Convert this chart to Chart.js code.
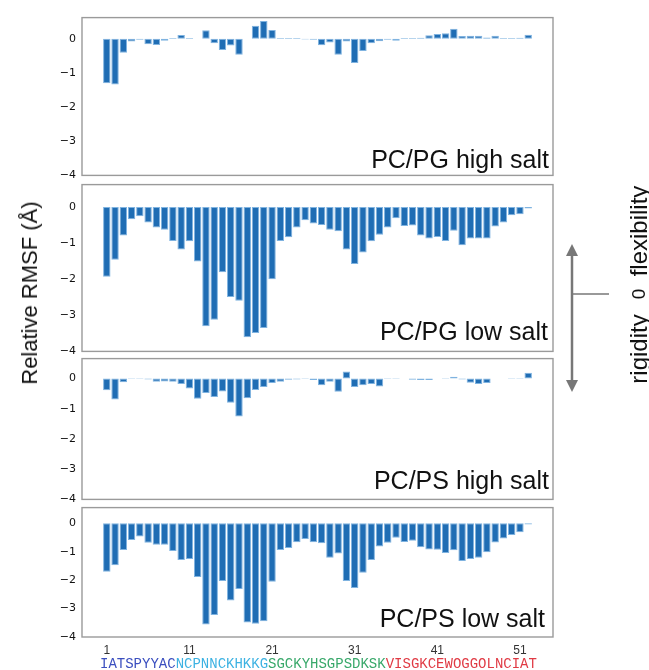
<!DOCTYPE html>
<html><head><meta charset="utf-8">
<script src="https://cdn.jsdelivr.net/npm/chart.js@4.4.0/dist/chart.umd.min.js"></script>
<style>
html,body{margin:0;padding:0;background:#fff;}
body{width:649px;height:670px;position:relative;overflow:hidden;font-family:"Liberation Sans",Arial,sans-serif;}
canvas{position:absolute;left:0;}
#ytitle{position:absolute;left:30px;top:293px;transform:translate(-50%,-50%) rotate(-90deg);font-size:22px;white-space:nowrap;color:#111;}
#seq{position:absolute;left:100px;top:656px;font-family:"Liberation Mono",monospace;font-size:14px;line-height:16px;white-space:nowrap;}
svg{position:absolute;left:0;top:0;}
</style></head><body>
<canvas id="c0"></canvas><canvas id="c1"></canvas><canvas id="c2"></canvas><canvas id="c3"></canvas>
<div id="ytitle">Relative RMSF (Å)</div>
<div id="seq"></div>
<svg width="649" height="670">
  <line x1="572" y1="254" x2="572" y2="382" stroke="#777" stroke-width="2.5"/>
  <polygon points="572,244 566,256 578,256" fill="#777"/>
  <polygon points="572,392 566,380 578,380" fill="#777"/>
  <line x1="572" y1="294" x2="609" y2="294" stroke="#777" stroke-width="1.5"/>
  <text transform="translate(638,231) rotate(-90)" text-anchor="middle" dominant-baseline="central" font-family="Liberation Sans, Arial, sans-serif" font-size="24" fill="#111">flexibility</text>
  <text transform="translate(638,294) rotate(-90)" text-anchor="middle" dominant-baseline="central" font-family="Liberation Sans, Arial, sans-serif" font-size="19" fill="#111">0</text>
  <text transform="translate(638,349) rotate(-90)" text-anchor="middle" dominant-baseline="central" font-family="Liberation Sans, Arial, sans-serif" font-size="24" fill="#111">rigidity</text>
</svg>
<script>
// ---------- data ----------
const residues = [1,2,3,4,5,6,7,8,9,10,11,12,13,14,15,16,17,18,19,20,21,22,23,24,25,26,27,28,29,30,31,32,33,34,35,36,37,38,39,40,41,42,43,44,45,46,47,48,49,50,51,52];
const pcpgHigh = [-1.30,-1.34,-0.41,-0.08,-0.03,-0.16,-0.18,-0.06,0.02,0.11,
                  0.02,0,0.25,-0.13,-0.33,-0.20,-0.47,0,0.38,0.52,
                  0.26,0.02,0.02,0.02,-0.02,-0.03,-0.19,-0.11,-0.47,-0.08,
                  -0.71,-0.36,-0.13,-0.07,-0.03,-0.06,0.02,0.02,0.03,0.10,
                  0.14,0.16,0.29,0.08,0.09,0.09,0.04,0.09,0.02,0.02,
                  0.03,0.12];
const pcpgLow  = [-1.93,-1.46,-0.79,-0.34,-0.26,-0.43,-0.57,-0.63,-0.94,-1.18,
                  -0.95,-1.51,-3.30,-3.12,-1.81,-2.49,-2.60,-3.61,-3.49,-3.35,
                  -2.00,-0.94,-0.84,-0.57,-0.37,-0.46,-0.50,-0.63,-0.67,-1.18,
                  -1.58,-1.26,-0.95,-0.77,-0.57,-0.31,-0.53,-0.51,-0.79,-0.87,
                  -0.83,-0.94,-0.66,-1.06,-0.87,-0.87,-0.87,-0.54,-0.43,-0.23,
                  -0.20,-0.04];
const pcpsHigh = [-0.39,-0.69,-0.12,0.02,0.02,-0.03,-0.11,-0.10,-0.11,-0.18,
                  -0.33,-0.67,-0.48,-0.61,-0.43,-0.80,-1.26,-0.65,-0.38,-0.28,
                  -0.15,-0.11,-0.04,-0.03,0.02,-0.05,-0.22,-0.11,-0.44,0.23,
                  -0.28,-0.22,-0.18,-0.26,0.02,0.02,0,-0.04,-0.05,-0.05,
                  0,0.02,0.06,-0.03,-0.14,-0.18,-0.15,0,0,0.02,
                  0.02,0.19];
const pcpsLow  = [-1.71,-1.48,-0.94,-0.59,-0.47,-0.69,-0.76,-0.76,-0.98,-1.29,
                  -1.26,-1.89,-3.56,-3.23,-2.03,-2.72,-2.31,-3.49,-3.53,-3.45,
                  -2.06,-0.94,-0.87,-0.67,-0.55,-0.67,-0.70,-1.21,-1.06,-2.03,
                  -2.28,-1.74,-1.29,-0.82,-0.69,-0.51,-0.66,-0.62,-0.84,-0.92,
                  -0.93,-1.05,-0.95,-1.33,-1.26,-1.21,-1.02,-0.68,-0.54,-0.41,
                  -0.32,-0.04];
const panelLabels = ["PC/PG high salt","PC/PG low salt","PC/PS high salt","PC/PS low salt"];
const xTickValues = [1,11,21,31,41,51];
const xTickLabels = ["1","11","21","31","41","51"];
const yTickValues = [-4,-3,-2,-1,0];
const yTickLabels = ["\u22124","\u22123","\u22122","\u22121","0"];
const yMin = -4;
const yMaxes = [0.62,0.62,0.66,0.55];
const seqSegments = ["IATSPYYAC","NCPNNCKHKKG","SGCKYHSGPSDKSK","VISGKCEWOGGOLNCIAT"];

// ---------- styles / layout ----------
const seqColors = ["#3b4fbf","#3cb2e2","#38a86a","#e03a44"];
const frames = [[15,178],[182,354],[356,502],[505,637]];
const labelInset = [[4,7],[5,11],[4,10],[8,10]];
const seriesList = [pcpgHigh,pcpgLow,pcpsHigh,pcpsLow];
const CW = 565, FRAME_LEFT = 82, FRAME_RIGHT = 553, PAD = 10, H = 670;

const seqDiv = document.getElementById('seq');
seqSegments.forEach((s,i)=>{ const sp=document.createElement('span'); sp.textContent=s; sp.style.color=seqColors[i]; seqDiv.appendChild(sp); });

const framePlugin = {
  id:'frameAndLabel',
  afterDraw(chart){
    const a = chart.chartArea, ctx = chart.ctx, o = chart.options.plugins.frameAndLabel;
    ctx.save();
    ctx.strokeStyle = '#9a9a9a'; ctx.lineWidth = 1.4;
    ctx.strokeRect(a.left, a.top, a.right-a.left, a.bottom-a.top);
    ctx.fillStyle = '#111';
    ctx.font = '25px "Liberation Sans", Arial, sans-serif';
    ctx.textAlign = 'right'; ctx.textBaseline = 'alphabetic';
    ctx.fillText(o.label, a.right - o.inset[0], a.bottom - o.inset[1]);
    ctx.restore();
  }
};

seriesList.forEach((vals, k) => {
  const isBottom = k === 3;
  const [ft, fb] = frames[k];
  const top = ft - PAD;
  const height = isBottom ? (H - top) : (fb - ft + 2*PAD);
  const cv = document.getElementById('c'+k);
  cv.width = CW; cv.height = height;
  cv.style.top = top + 'px'; cv.style.width = CW + 'px'; cv.style.height = height + 'px';
  new Chart(cv, {
    type: 'bar',
    data: {
      datasets: [{
        data: residues.map((r,i)=>({x:r, y:vals[i]})),
        backgroundColor: '#1f6db4',
        borderColor: '#7fb3e0',
        borderWidth: 1,
        borderSkipped: false,
        barPercentage: 0.9,
        categoryPercentage: 1.0
      }]
    },
    options: {
      responsive: false,
      animation: false,
      devicePixelRatio: 1,
      layout: { padding: { top: PAD, bottom: isBottom ? 0 : PAD, left: 0, right: CW - FRAME_RIGHT } },
      plugins: {
        legend: { display: false },
        tooltip: { enabled: false },
        frameAndLabel: { label: panelLabels[k], inset: labelInset[k] }
      },
      scales: {
        x: {
          type: 'linear', min: -2, max: 55,
          offset: false,
          display: isBottom,
          grid: { display: false, drawTicks: false, offset: false },
          border: { display: false },
          afterBuildTicks: s => { s.ticks = xTickValues.map(v=>({value:v})); },
          afterFit: s => { if (isBottom) s.height = H - fb; },
          ticks: {
            autoSkip: false, maxRotation: 0, padding: 6,
            color: '#333',
            font: { family: '"Liberation Sans", Arial, sans-serif', size: 12 },
            callback: (v, i) => xTickLabels[i]
          }
        },
        y: {
          type: 'linear', min: yMin, max: yMaxes[k],
          grid: { display: false, drawTicks: false },
          border: { display: false },
          afterBuildTicks: s => { s.ticks = yTickValues.map(v=>({value:v})); },
          afterFit: s => { s.width = FRAME_LEFT; },
          ticks: {
            padding: 6, color: '#111',
            font: { family: '"DejaVu Sans", sans-serif', size: 11 },
            callback: (v, i) => yTickLabels[i]
          }
        }
      }
    },
    plugins: [framePlugin]
  });
});
</script>
</body></html>
